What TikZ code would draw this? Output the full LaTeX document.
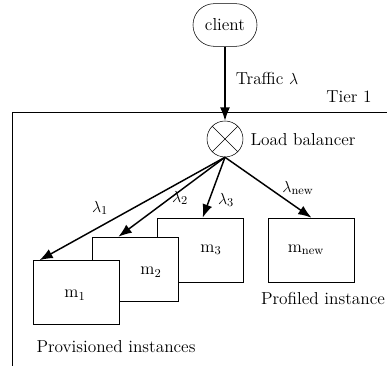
\documentclass[tikz,border=0pt]{standalone}
\usetikzlibrary{arrows.meta}

\begin{document}
\begin{tikzpicture}[x=0.75pt, y=-0.75pt,
		every node/.style={font=\fontsize{13}{15}\selectfont},
		flow/.style={-{Latex[length=10pt,width=7.5pt]}, line width=1.1pt},
		vm/.style={draw, fill=white, minimum width=64.5pt, minimum height=48pt, inner sep=0pt}]
		\useasboundingbox (0,0) rectangle (387,366);
		
		% tier boundary
		\draw (387,112) -- (12,112) -- (12,366);
		\node (tier) at (349,97) {Tier 1};
		
		% client
		\node[draw, rounded corners=15.9pt, minimum width=48pt, minimum height=32pt] (client) at (225,25) {client};
		
		% load balancer
		\node[draw, circle, minimum size=27pt, inner sep=0pt] (lb) at (225,139) {};
		\draw (lb.north west) -- (lb.south east);
		\draw (lb.north east) -- (lb.south west);
		\node (lbname) at (303,140) {Load balancer};
		
		% incoming traffic
		\draw[flow] (client) -- (lb);
		\node (traffic) at (267,78) {Traffic $\lambda$};
		
		% instances (back to front)
		\node[vm] (m3) at (200,250) {};
		\node[vm] (m2) at (135,269) {};
		\node[vm] (m1) at (76,292.5) {};
		\node[vm] (mnew) at (311.5,250) {};
		\node (m3name) at (211,250) {m\textsubscript{3}};
		\node (m2name) at (151,272) {m\textsubscript{2}};
		\node (m1name) at (75,295) {m\textsubscript{1}};
		\node (mnewname) at (306,250) {m\textsubscript{new}};
		
		% dispatched traffic
		\draw[flow] (lb.south) -- ([xshift=5pt]m1.north west);
		\draw[flow] (lb.south) -- ([xshift=20pt]m2.north west);
		\draw[flow] (lb.south) -- ([xshift=2pt]m3.north);
		\draw[flow] (lb.south) -- (mnew.north);
		\node (l1) at (100,208) {$\lambda_1$};
		\node (l2) at (180,198) {$\lambda_2$};
		\node (l3) at (226,200) {$\lambda_3$};
		\node (lnew) at (298,188) {$\lambda_{\mathrm{new}}$};
		
		% groups
		\node (prov) at (116,347) {Provisioned instances};
		\node (prof) at (323,298) {Profiled instance};
	\end{tikzpicture}
\end{document}
